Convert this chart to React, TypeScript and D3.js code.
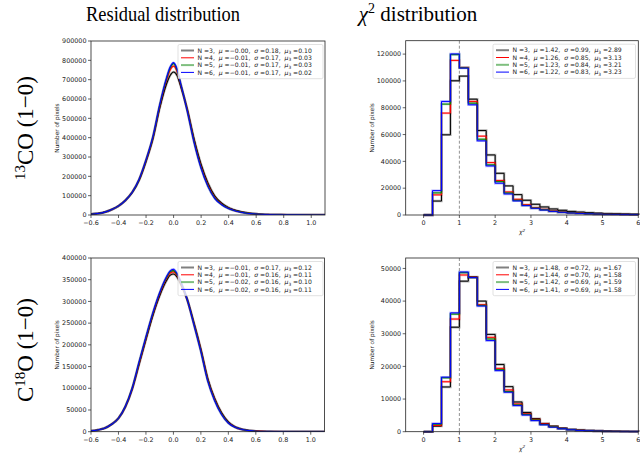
import * as d3 from 'd3';

// residual grid (x positions of the sampled histogram heights)
const resX = [-0.6, -0.55, -0.5, -0.45, -0.4, -0.35, -0.3, -0.25, -0.2, -0.15, -0.1, -0.05, -0.025, 0, 0.025, 0.05, 0.1, 0.15, 0.2, 0.25, 0.3, 0.35, 0.4, 0.45, 0.5, 0.55, 0.6, 0.7, 0.8, 0.9, 1.0, 1.1];

const resCO_N3 = [4000, 8000, 15000, 28000, 47000, 76000, 117000, 181000, 278000, 395000, 555000, 680000, 722000, 740000, 722000, 670000, 545000, 390000, 262000, 165000, 98000, 61000, 38000, 24000, 15000, 9000, 5500, 2200, 1000, 450, 200, 100];
const resCO_N4 = [4000, 8000, 15000, 28000, 47000, 76000, 118000, 183000, 282000, 400000, 565000, 700000, 750000, 770000, 742000, 678000, 542000, 380000, 250000, 155000, 90000, 56000, 35000, 22000, 14000, 8500, 5200, 2100, 950, 420, 200, 100];
const resCO_N5 = [4000, 8000, 15000, 28000, 47000, 76000, 118000, 184000, 284000, 403000, 570000, 708000, 760000, 783000, 750000, 682000, 539000, 376000, 245000, 150000, 87000, 54000, 34000, 21500, 13500, 8200, 5100, 2000, 900, 400, 200, 100];
const resCO_N6 = [4000, 8000, 15000, 28000, 47000, 76000, 118000, 185000, 285000, 405000, 572000, 712000, 765000, 788000, 755000, 684000, 537000, 373000, 242000, 148000, 85000, 53000, 33000, 21000, 13000, 8000, 5000, 2000, 900, 400, 200, 100];

const resC18_N3 = [2000, 4000, 8000, 17000, 31000, 57000, 98000, 155000, 212000, 267000, 313000, 348000, 360000, 363000, 357000, 342000, 305000, 250000, 190000, 123000, 77000, 44000, 22500, 11000, 5500, 2700, 1300, 450, 160, 60, 20, 0];
const resC18_N4 = [2000, 4000, 8000, 17000, 31000, 57500, 99000, 157000, 215000, 270000, 317000, 353000, 365000, 368000, 361000, 345000, 305000, 248000, 188000, 120000, 75000, 42000, 21000, 10500, 5200, 2600, 1250, 420, 155, 55, 20, 0];
const resC18_N5 = [2000, 4000, 8000, 17000, 31000, 58000, 100000, 159000, 217000, 272000, 319000, 355000, 368000, 371000, 363000, 347000, 305000, 247000, 186000, 118000, 73000, 41000, 20500, 10200, 5100, 2500, 1200, 410, 150, 50, 20, 0];
const resC18_N6 = [2000, 4000, 8000, 17000, 31000, 58000, 100000, 160000, 218000, 273000, 320000, 357000, 370000, 374000, 365000, 348000, 305000, 246000, 185000, 117000, 72000, 40000, 20000, 10000, 5000, 2500, 1200, 400, 150, 50, 20, 0];

// chi^2 histogram bin edges and counts
const chiEdges = [0, 0.25, 0.5, 0.75, 1, 1.25, 1.5, 1.75, 2, 2.25, 2.5, 2.75, 3, 3.25, 3.5, 3.75, 4, 4.25, 4.5, 4.75, 5, 5.25, 5.5, 5.75, 6];

const chiCO_N3 = [0, 10400, 59800, 100100, 103600, 86400, 63000, 44800, 31100, 21700, 15200, 11000, 8000, 6000, 4500, 3500, 2700, 2200, 1700, 1400, 1100, 900, 700, 600];
const chiCO_N4 = [0, 15000, 76000, 115300, 110000, 84700, 58800, 39100, 25700, 17200, 11700, 7700, 5500, 4200, 3000, 2200, 1700, 1400, 1000, 800, 650, 500, 400, 300];
const chiCO_N5 = [0, 16500, 82700, 119600, 109800, 83400, 56500, 37400, 24900, 16400, 11000, 7200, 5200, 3900, 2800, 2100, 1600, 1300, 950, 750, 600, 470, 370, 290];
const chiCO_N6 = [0, 18200, 84700, 120100, 109600, 82200, 55300, 36600, 23700, 15700, 10500, 7000, 5000, 3700, 2700, 2000, 1500, 1200, 900, 700, 550, 450, 350, 280];

const chiC18_N3 = [0, 1700, 13700, 32000, 46100, 47400, 40000, 29800, 20600, 13800, 9100, 5900, 4000, 2500, 1700, 1100, 700, 500, 350, 250, 180, 120, 90, 60];
const chiC18_N4 = [0, 1900, 15300, 34500, 48000, 47300, 38900, 28900, 19400, 12800, 8500, 5500, 3800, 2400, 1600, 1000, 650, 450, 300, 220, 150, 100, 75, 50];
const chiC18_N5 = [0, 2300, 16500, 36000, 48700, 47200, 38700, 28400, 19000, 12300, 8200, 5300, 3600, 2200, 1500, 950, 620, 420, 290, 210, 140, 95, 70, 45];
const chiC18_N6 = [0, 2500, 16700, 36400, 48900, 47200, 38500, 27900, 18700, 12100, 8000, 5100, 3400, 2100, 1400, 900, 600, 400, 280, 200, 130, 90, 65, 40];

// legend stats: [mu, sigma, mu3] for N = 3..6
const nValues = [3, 4, 5, 6];
const statsResCO = [['−0.00', '0.18', '0.10'], ['−0.01', '0.17', '0.03'], ['−0.01', '0.17', '0.03'], ['−0.01', '0.17', '0.02']];
const statsChiCO = [['1.42', '0.99', '2.89'], ['1.26', '0.85', '3.13'], ['1.23', '0.84', '3.21'], ['1.22', '0.83', '3.23']];
const statsResC18 = [['−0.01', '0.17', '0.12'], ['−0.01', '0.16', '0.11'], ['−0.02', '0.16', '0.10'], ['−0.02', '0.16', '0.11']];
const statsChiC18 = [['1.48', '0.72', '1.67'], ['1.44', '0.70', '1.58'], ['1.42', '0.69', '1.59'], ['1.41', '0.69', '1.58']];

const colors = ['#000000', '#ff0000', '#008000', '#0000ff'];
const legendStroke = [
    { c: '#808080', w: 2 },
    { c: '#ff0000', w: 1 },
    { c: '#7fbf7f', w: 2 },
    { c: '#0000ff', w: 1 }
];

const tickFont = "'DejaVu Sans', sans-serif";
const serif = "'Liberation Serif', serif";

type Box = { x0: number; x1: number; y0: number; y1: number };

function Legend({ x0, x1, y0, stats }: { x0: number; x1: number; y0: number; stats: string[][] }) {
    const rowH = 7.3;
    return (
        <g>
            <rect x={x0} y={y0} width={x1 - x0} height={rowH * 4 + 5} fill="white" fillOpacity={0.8} stroke="#cccccc" strokeWidth={0.6} rx={1.5} />
            {stats.map((s, i) => {
                const cy = y0 + 6 + i * rowH;
                return (
                    <g key={i}>
                        <line x1={x0 + 3} x2={x0 + 16} y1={cy} y2={cy} stroke={legendStroke[i].c} strokeWidth={legendStroke[i].w} />
                        <text x={x0 + 19.5} y={cy + 2.1} fontFamily={tickFont} fontSize={6.1} fill="#222" style={{ whiteSpace: 'pre' }}>
                            {`N =${nValues[i]},  `}
                            <tspan fontStyle="italic">μ</tspan>
                            {` =${s[0]},  `}
                            <tspan fontStyle="italic">σ</tspan>
                            {` =${s[1]},  `}
                            <tspan fontStyle="italic">μ</tspan>
                            <tspan fontSize={4.3} dy={1.3}>3</tspan>
                            <tspan dy={-1.3}>{` =${s[2]}`}</tspan>
                        </text>
                    </g>
                );
            })}
        </g>
    );
}

function Frame({ b, xs, ys, xTicks, yTicks, xFmt }: { b: Box; xs: d3.ScaleLinear<number, number>; ys: d3.ScaleLinear<number, number>; xTicks: number[]; yTicks: number[]; xFmt: (v: number) => string }) {
    return (
        <g>
            <rect x={b.x0} y={b.y0} width={b.x1 - b.x0} height={b.y1 - b.y0} fill="none" stroke="#222" strokeWidth={0.8} />
            {xTicks.map((t) => (
                <g key={`x${t}`}>
                    <line x1={xs(t)} x2={xs(t)} y1={b.y1} y2={b.y1 + 3} stroke="#222" strokeWidth={0.7} />
                    <text x={xs(t)} y={b.y1 + 10} textAnchor="middle" fontFamily={tickFont} fontSize={6.4} fill="#222">
                        {xFmt(t)}
                    </text>
                </g>
            ))}
            {yTicks.map((t) => (
                <g key={`y${t}`}>
                    <line x1={b.x0 - 3} x2={b.x0} y1={ys(t)} y2={ys(t)} stroke="#222" strokeWidth={0.7} />
                    <text x={b.x0 - 4.5} y={ys(t) + 2.2} textAnchor="end" fontFamily={tickFont} fontSize={6.4} fill="#222">
                        {d3.format('d')(t)}
                    </text>
                </g>
            ))}
            <text transform={`translate(${b.x0 - 32},${(b.y0 + b.y1) / 2}) rotate(-90)`} textAnchor="middle" fontFamily={tickFont} fontSize={5.8} fill="#222">
                Number of pixels
            </text>
        </g>
    );
}

function ResidualPanel({ b, ymax, yStep, series, stats }: { b: Box; ymax: number; yStep: number; series: number[][]; stats: string[][] }) {
    const xs = d3.scaleLinear().domain([-0.6, 1.1]).range([b.x0, b.x1]);
    const ys = d3.scaleLinear().domain([0, ymax]).range([b.y1, b.y0]);
    const line = d3
        .line<number>()
        .x((_, i) => xs(resX[i]))
        .y((d) => ys(d))
        .curve(d3.curveMonotoneX);
    const clipId = `clip${b.y0}`;
    return (
        <g>
            <clipPath id={clipId}>
                <rect x={b.x0} y={b.y0} width={b.x1 - b.x0} height={b.y1 - b.y0} />
            </clipPath>
            <g clipPath={`url(#${clipId})`}>
                {series.map((s, i) => (
                    <path key={`h${i}`} d={line(s) || ''} fill="none" stroke={colors[i]} strokeOpacity={0.3} strokeWidth={2.4} />
                ))}
                {series.map((s, i) => (
                    <path key={`l${i}`} d={line(s) || ''} fill="none" stroke={colors[i]} strokeWidth={1.1} />
                ))}
            </g>
            <Frame b={b} xs={xs} ys={ys} xTicks={d3.range(-0.6, 1.01, 0.2)} yTicks={d3.range(0, ymax + 1, yStep)} xFmt={d3.format('.1f')} />
            <Legend x0={178} x1={323} y0={b.y0 + 3.5} stats={stats} />
        </g>
    );
}

function ChiPanel({ b, ymax, yStep, series, stats }: { b: Box; ymax: number; yStep: number; series: number[][]; stats: string[][] }) {
    const xs = d3.scaleLinear().domain([-0.5, 6]).range([b.x0, b.x1]);
    const ys = d3.scaleLinear().domain([0, ymax]).range([b.y1, b.y0]);
    const step = d3
        .line<[number, number]>()
        .x((d) => xs(d[0]))
        .y((d) => ys(d[1]))
        .curve(d3.curveStepAfter);
    const pts = (s: number[]): [number, number][] => {
        const p: [number, number][] = [[chiEdges[0], 0]];
        s.forEach((v, i) => p.push([chiEdges[i], v]));
        p.push([chiEdges[chiEdges.length - 1], s[s.length - 1]]);
        p.push([chiEdges[chiEdges.length - 1], 0]);
        return p;
    };
    return (
        <g>
            <line x1={xs(1)} x2={xs(1)} y1={b.y0} y2={b.y1} stroke="#777" strokeWidth={0.8} strokeDasharray="3,2" />
            {series.map((s, i) => (
                <path key={`h${i}`} d={step(pts(s)) || ''} fill="none" stroke={colors[i]} strokeOpacity={0.3} strokeWidth={2.4} />
            ))}
            {series.map((s, i) => (
                <path key={`l${i}`} d={step(pts(s)) || ''} fill="none" stroke={colors[i]} strokeWidth={1} />
            ))}
            <Frame b={b} xs={xs} ys={ys} xTicks={[0, 1, 2, 3, 4, 5, 6]} yTicks={d3.range(0, ymax, yStep)} xFmt={d3.format('d')} />
            <text x={(b.x0 + b.x1) / 2} y={b.y1 + 19} textAnchor="middle" fontFamily={tickFont} fontSize={6} fontStyle="italic" fill="#222">
                χ<tspan fontSize={4.2} dy={-2.5}>2</tspan>
            </text>
            <Legend x0={493} x1={635.5} y0={b.y0 + 3.5} stats={stats} />
        </g>
    );
}

export default function App() {
    const tl: Box = { x0: 91, x1: 325, y0: 41, y1: 215 };
    const bl: Box = { x0: 91, x1: 324.5, y0: 258, y1: 431.7 };
    const tr: Box = { x0: 405.7, x1: 638.3, y0: 40.7, y1: 215 };
    const br: Box = { x0: 405.7, x1: 638.3, y0: 258, y1: 431.7 };
    return (
        <svg width={640} height={455} style={{ position: 'absolute', left: 0, top: 0, background: 'white' }}>
            <text x={163} y={21} textAnchor="middle" fontFamily={serif} fontSize={21} textLength={154} lengthAdjust="spacingAndGlyphs">
                Residual distribution
            </text>
            <text x={418} y={21} textAnchor="middle" fontFamily={serif} fontSize={21}>
                <tspan fontStyle="italic">χ</tspan>
                <tspan fontSize={14} dy={-8}>2</tspan>
                <tspan dy={8}> distribution</tspan>
            </text>
            <text transform="translate(33,128) rotate(-90)" textAnchor="middle" fontFamily={serif} fontSize={23}>
                <tspan fontSize={15} dy={-8}>13</tspan>
                <tspan dy={8}>CO (1−0)</tspan>
            </text>
            <text transform="translate(33,350) rotate(-90)" textAnchor="middle" fontFamily={serif} fontSize={23}>
                C<tspan fontSize={15} dy={-8}>18</tspan>
                <tspan dy={8}>O (1−0)</tspan>
            </text>
            <ResidualPanel b={tl} ymax={900000} yStep={100000} series={[resCO_N3, resCO_N4, resCO_N5, resCO_N6]} stats={statsResCO} />
            <ChiPanel b={tr} ymax={130000} yStep={20000} series={[chiCO_N3, chiCO_N4, chiCO_N5, chiCO_N6]} stats={statsChiCO} />
            <ResidualPanel b={bl} ymax={400000} yStep={50000} series={[resC18_N3, resC18_N4, resC18_N5, resC18_N6]} stats={statsResC18} />
            <ChiPanel b={br} ymax={53200} yStep={10000} series={[chiC18_N3, chiC18_N4, chiC18_N5, chiC18_N6]} stats={statsChiC18} />
        </svg>
    );
}
